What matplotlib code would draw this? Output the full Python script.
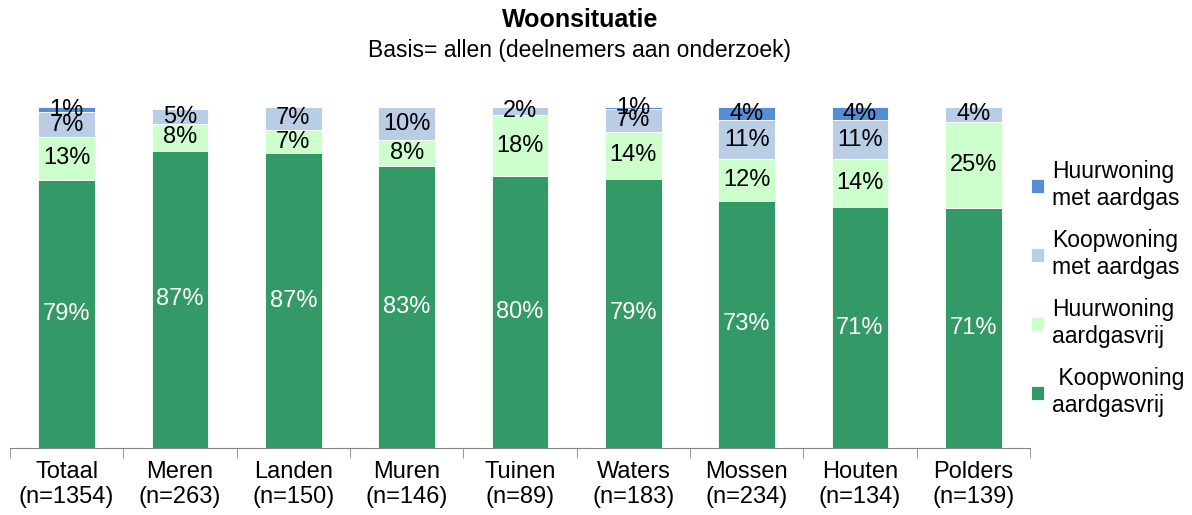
import numpy as np
import matplotlib
matplotlib.use("Agg")
import matplotlib.pyplot as plt

plt.rcParams["font.family"] = ["Liberation Sans", "DejaVu Sans"]

categories = ["Totaal\n(n=1354)", "Meren\n(n=263)", "Landen\n(n=150)", "Muren\n(n=146)",
              "Tuinen\n(n=89)", "Waters\n(n=183)", "Mossen\n(n=234)", "Houten\n(n=134)",
              "Polders\n(n=139)"]

# geschatte waarden (procenten) uit de balkhoogtes
koop_vrij = [78.6, 87.2, 86.5, 82.8, 79.7, 79.0, 72.5, 70.6, 70.3]
huur_vrij = [12.6, 7.8, 6.7, 7.4, 18.0, 13.8, 12.3, 14.2, 25.4]
koop_gas = [7.3, 4.4, 6.9, 9.8, 2.3, 6.7, 11.3, 11.3, 4.3]
huur_gas = [1.5, 0.0, 0.0, 0.0, 0.0, 0.5, 3.9, 3.9, 0.0]

# labels zoals in de grafiek
koop_vrij_lbl = [79, 87, 87, 83, 80, 79, 73, 71, 71]
huur_vrij_lbl = [13, 8, 7, 8, 18, 14, 12, 14, 25]
koop_gas_lbl = [7, 5, 7, 10, 2, 7, 11, 11, 4]
huur_gas_lbl = [1, 0, 0, 0, 0, 1, 4, 4, 0]

series = [
    (" Koopwoning\naardgasvrij", koop_vrij, koop_vrij_lbl, "#339966", "white"),
    ("Huurwoning\naardgasvrij", huur_vrij, huur_vrij_lbl, "#CCFFCC", "black"),
    ("Koopwoning\nmet aardgas", koop_gas, koop_gas_lbl, "#B9CDE5", "black"),
    ("Huurwoning\nmet aardgas", huur_gas, huur_gas_lbl, "#558ED5", "black"),
]

fig = plt.figure(figsize=(11.92, 5.15), dpi=100)
ax = fig.add_axes([10 / 1192, 67 / 515, 1020 / 1192, 341 / 515])

x = np.arange(len(categories))
bottom = np.zeros(len(categories))
for name, vals, lbls, color, tcolor in series:
    vals = np.array(vals)
    ax.bar(x, vals, 0.5, bottom=bottom, color=color, label=name, edgecolor="white", linewidth=0.6)
    for xi, b, v, lb in zip(x, bottom, vals, lbls):
        if lb > 0:
            ax.text(xi, b + v / 2, f"{lb}%", ha="center", va="center",
                    fontsize=17, color=tcolor)
    bottom += vals

ax.set_xlim(-0.5, len(categories) - 0.5)
ax.set_ylim(0, 100)
ax.set_yticks([])
for s in ["top", "right", "left"]:
    ax.spines[s].set_visible(False)
ax.spines["bottom"].set_color("#868686")
ax.set_xticks(x)
ax.set_xticklabels(categories, fontsize=17)
ax.tick_params(axis="x", which="major", length=0, pad=9)
ax.set_xticks(np.arange(-0.5, len(categories)), minor=True)
ax.tick_params(axis="x", which="minor", length=7, color="#868686")

h, l = ax.get_legend_handles_labels()
fig.legend(h[::-1], l[::-1], loc="center left", bbox_to_anchor=(1031 / 1192, 0.44),
           frameon=False, fontsize=16.5, handlelength=0.55, handleheight=0.55,
           handletextpad=0.35, labelspacing=0.85, borderpad=0, borderaxespad=0)

fig.text(580 / 1192, 1 - 20 / 515, "Woonsituatie", ha="center", va="center",
         fontsize=18, fontweight="bold")
fig.text(580 / 1192, 1 - 50 / 515, "Basis= allen (deelnemers aan onderzoek)",
         ha="center", va="center", fontsize=16.5)

fig.savefig("out.png", dpi=100)
